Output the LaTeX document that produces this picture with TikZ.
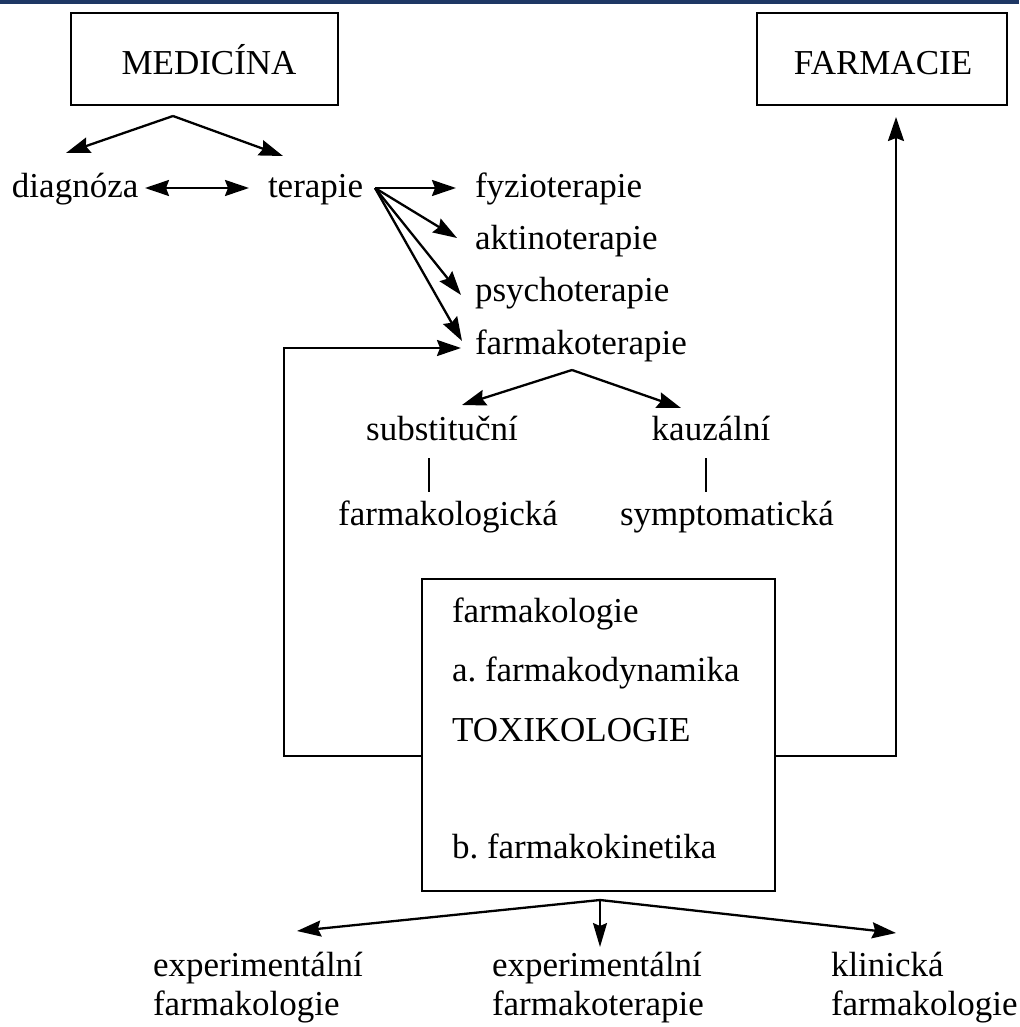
\documentclass[tikz,border=0pt]{standalone}
\usepackage{fontspec}
\setmainfont{Liberation Serif}
\usetikzlibrary{arrows.meta}
\definecolor{topbar}{RGB}{30,55,100}
\tikzset{
  lbl/.style={inner sep=0pt, outer sep=0pt, font=\fontsize{35}{40}\selectfont},
  boxnode/.style={draw, line width=2.4pt, inner sep=0pt},
  conn/.style={line width=2.3pt},
  tip/.style={},
  arr/.style={line width=2.3pt, -{Stealth[length=24pt,width=16pt,inset=3pt]}},
  darr/.style={line width=2.3pt, {Stealth[length=24pt,width=16pt,inset=3pt]}-{Stealth[length=24pt,width=16pt,inset=3pt]}},
}
\begin{document}
\frenchspacing
\begin{tikzpicture}[x=1pt,y=-1pt]
\useasboundingbox (0,0) rectangle (1019,1027);
\fill[topbar] (0,0) rectangle (1019,4);

% boxes
\node[boxnode, minimum width=267pt, minimum height=92pt] (medbox) at (204.5,59) {};
\node[lbl, anchor=base] (med) at (209,75) {MEDICÍNA};
\node[boxnode, minimum width=250pt, minimum height=92pt] (farmbox) at (882,59) {};
\node[lbl, anchor=base] (farm) at (883,75) {FARMACIE};
\node[boxnode, minimum width=353pt, minimum height=312pt] (cbox) at (598.5,735) {};

% texts
\node[lbl, anchor=base west] (diag) at (12,197) {diagnóza};
\node[lbl, anchor=base west] (ter) at (268,197) {terapie};
\node[lbl, anchor=base west] (fyz) at (475,197) {fyzioterapie};
\node[lbl, anchor=base west] (akt) at (475,249) {aktinoterapie};
\node[lbl, anchor=base west] (psy) at (475,301) {psychoterapie};
\node[lbl, anchor=base west] (fkt) at (475,354) {farmakoterapie};
\node[lbl, anchor=base] (sub) at (442,440) {substituční};
\node[lbl, anchor=base] (kau) at (711,440) {kauzální};
\node[lbl, anchor=base] (fgi) at (448,525) {farmakologická};
\node[lbl, anchor=base] (sym) at (727,525) {symptomatická};
\node[lbl, anchor=base west] (c1) at (452,622) {farmakologie};
\node[lbl, anchor=base west] (c2) at (452,681) {a. farmakodynamika};
\node[lbl, anchor=base west] (c3) at (452,741) {TOXIKOLOGIE};
\node[lbl, anchor=base west] (c4) at (452,858) {b. farmakokinetika};
\node[lbl, anchor=base west] (b1a) at (153,976) {experimentální};
\node[lbl, anchor=base west] (b1b) at (153,1015) {farmakologie};
\node[lbl, anchor=base west] (b2a) at (492,976) {experimentální};
\node[lbl, anchor=base west] (b2b) at (492,1015) {farmakoterapie};
\node[lbl, anchor=base west] (b3a) at (831,976) {klinická};
\node[lbl, anchor=base west] (b3b) at (831,1015) {farmakologie};

% connector points
\coordinate (medapex) at (173,116);
\coordinate (medL) at (66,153);
\coordinate (medR) at (283,156);
\coordinate (dtL) at (145,188);
\coordinate (dtR) at (249,188);
\coordinate (terS) at (375,188);
\coordinate (tFyz) at (456,188);
\coordinate (tAkt) at (457,238);
\coordinate (tPsy) at (461,295);
\coordinate (tFkt) at (462,341);
\coordinate (fktapex) at (572,370);
\coordinate (fktL) at (462,405);
\coordinate (fktR) at (681,408);
\coordinate (subT) at (429,458);
\coordinate (subB) at (429,492);
\coordinate (kauT) at (706,458);
\coordinate (kauB) at (706,492);
\coordinate (fbL) at (422,756);
\coordinate (fbC1) at (284,756);
\coordinate (fbC2) at (284,348);
\coordinate (fbT) at (461,348);
\coordinate (frR) at (775,756);
\coordinate (frC) at (896,756);
\coordinate (frT) at (896,117);
\coordinate (botapex) at (600,900);
\coordinate (botL) at (297,931);
\coordinate (botM) at (600,947);
\coordinate (botR) at (896,933);

% connectors
\draw[arr] (medapex) -- (medL);
\draw[arr] (medapex) -- (medR);
\draw[darr] (dtL) -- (dtR);
\draw[arr] (terS) -- (tFyz);
\draw[arr] (terS) -- (tAkt);
\draw[arr] (terS) -- (tPsy);
\draw[arr] (terS) -- (tFkt);
\draw[arr] (fktapex) -- (fktL);
\draw[arr] (fktapex) -- (fktR);
\draw[conn] (subT) -- (subB);
\draw[conn] (kauT) -- (kauB);
\draw[arr] (fbL) -- (fbC1) -- (fbC2) -- (fbT);
\draw[arr] (frR) -- (frC) -- (frT);
\draw[arr] (botapex) -- (botL);
\draw[arr] (botapex) -- (botR);
\draw[line width=1.8pt, -{Stealth[length=24pt,width=14pt,inset=3pt]}] (botapex) -- (botM);
\end{tikzpicture}
\end{document}
